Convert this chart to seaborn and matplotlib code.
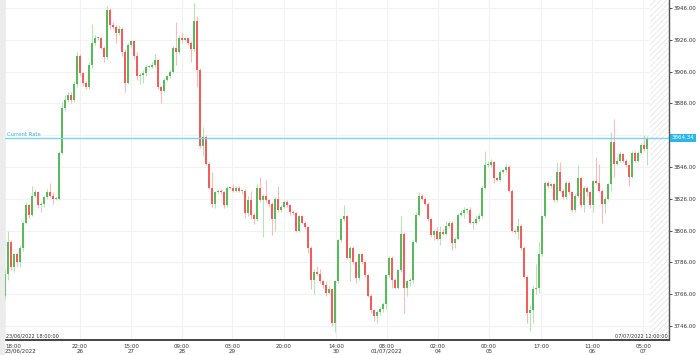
import matplotlib
matplotlib.use("Agg")
import numpy as np
import pandas as pd
import matplotlib.pyplot as plt
import matplotlib.transforms as mtransforms
import seaborn as sns

# hourly closes (price units)
closes = [
    3779, 3799, 3783, 3791, 3786, 3795, 3811, 3822, 3816, 3828,
    3830, 3822, 3823, 3827, 3830, 3828, 3826, 3826, 3855, 3883,
    3888, 3891, 3888, 3898, 3916, 3905, 3899, 3896, 3910, 3924,
    3927, 3927, 3921, 3915, 3945, 3935, 3934, 3930, 3933, 3918,
    3899, 3923, 3925, 3916, 3903, 3904, 3905, 3909, 3909, 3910,
    3913, 3896, 3894, 3901, 3903, 3906, 3921, 3918, 3927, 3926,
    3927, 3924, 3920, 3938, 3907, 3859, 3865, 3848, 3833, 3823,
    3830, 3831, 3830, 3822, 3833, 3833, 3831, 3833, 3831, 3831,
    3817, 3825, 3816, 3813, 3833, 3825, 3828, 3825, 3823, 3813,
    3826, 3819, 3821, 3824, 3822, 3818, 3817, 3806, 3815, 3811,
    3808, 3795, 3775, 3780, 3779, 3774, 3772, 3767, 3769, 3748,
    3774, 3800, 3813, 3815, 3789, 3795, 3786, 3776, 3791, 3786,
    3778, 3765, 3756, 3752, 3755, 3757, 3760, 3778, 3789, 3775,
    3770, 3781, 3804, 3770, 3774, 3775, 3799, 3816, 3828, 3826,
    3823, 3813, 3803, 3806, 3801, 3805, 3804, 3809, 3811, 3798,
    3801, 3816, 3817, 3819, 3819, 3811, 3811, 3813, 3815, 3833,
    3847, 3847, 3849, 3839, 3838, 3843, 3844, 3846, 3831, 3806,
    3805, 3809, 3795, 3777, 3754, 3756, 3769, 3770, 3791, 3815,
    3836, 3834, 3835, 3825, 3843, 3831, 3827, 3836, 3830, 3819,
    3828, 3839, 3822, 3833, 3830, 3822, 3837, 3836, 3831, 3823,
    3826, 3835, 3862, 3848, 3850, 3854, 3850, 3847, 3840, 3855,
    3850, 3855, 3860, 3857, 3864.34,
]
first_open = 3765

# wick lengths above / below the body
upper_wick = [
    3, 7, 1, 1, 1, 2, 1, 2, 1, 6,
    2, 1, 1, 1, 2, 6, 2, 1, 1, 4,
    3, 2, 2, 2, 2, 1, 1, 1, 2, 12,
    2, 1, 1, 1, 2, 1, 2, 1, 2, 1,
    2, 1, 1, 1, 2, 1, 2, 1, 1, 2,
    4, 1, 1, 1, 1, 1, 1, 16, 2, 4,
    1, 1, 1, 11, 3, 1, 6, 1, 1, 10,
    1, 1, 1, 1, 1, 1, 2, 1, 1, 1,
    1, 3, 6, 1, 2, 7, 1, 10, 1, 1,
    1, 8, 1, 1, 1, 1, 1, 1, 1, 1,
    1, 1, 1, 2, 4, 3, 1, 2, 3, 1,
    1, 1, 1, 7, 1, 1, 1, 1, 1, 1,
    1, 1, 1, 1, 1, 1, 1, 1, 1, 1,
    1, 1, 11, 1, 1, 1, 1, 2, 2, 1,
    1, 1, 1, 1, 2, 4, 2, 3, 1, 1,
    1, 1, 2, 2, 1, 2, 1, 3, 2, 1,
    9, 3, 2, 1, 1, 1, 1, 2, 1, 1,
    1, 5, 1, 1, 1, 3, 3, 15, 8, 1,
    1, 1, 1, 1, 6, 6, 1, 1, 1, 1,
    1, 8, 1, 1, 1, 1, 1, 15, 12, 1,
    1, 1, 6, 14, 2, 2, 1, 1, 1, 1,
    1, 1, 1, 6, 1,
]
lower_wick = [
    2, 4, 2, 3, 3, 3, 2, 1, 2, 1,
    1, 2, 4, 2, 1, 1, 3, 1, 1, 1,
    2, 1, 2, 1, 2, 2, 2, 1, 1, 2,
    1, 1, 1, 3, 1, 2, 1, 6, 1, 2,
    6, 1, 2, 2, 2, 5, 5, 2, 1, 1,
    1, 1, 8, 1, 1, 1, 1, 8, 1, 2,
    1, 1, 8, 1, 11, 1, 6, 1, 1, 2,
    3, 1, 1, 2, 1, 1, 1, 1, 1, 2,
    3, 2, 3, 3, 1, 1, 23, 1, 2, 10,
    7, 1, 1, 1, 1, 2, 1, 1, 1, 1,
    1, 3, 6, 9, 1, 1, 2, 2, 1, 2,
    6, 1, 1, 1, 1, 15, 1, 3, 1, 1,
    1, 1, 2, 3, 4, 2, 2, 3, 1, 5,
    1, 1, 1, 16, 5, 3, 2, 1, 1, 1,
    1, 1, 1, 3, 1, 4, 1, 1, 1, 4,
    3, 1, 1, 3, 2, 1, 4, 1, 1, 1,
    1, 1, 1, 3, 1, 1, 1, 1, 1, 1,
    1, 4, 1, 1, 6, 11, 8, 3, 3, 1,
    1, 1, 1, 1, 1, 1, 1, 1, 1, 1,
    1, 1, 2, 4, 2, 2, 4, 1, 1, 12,
    6, 1, 4, 8, 1, 1, 1, 1, 6, 1,
    1, 1, 1, 1, 10,
]

tick_pos = [0, 25, 42, 59, 75.8, 93, 110.3, 127.3, 144.3, 161.3, 178.7, 195.7, 212.7]
tick_labels = ["18:00\n23/06/2022", "22:00\n26", "15:00\n27", "09:00\n28", "03:00\n29",
               "20:00", "14:00\n30", "08:00\n01/07/2022", "02:00\n04", "00:00\n05",
               "17:00", "11:00\n06", "05:00\n07"]
price_ticks = [3746, 3766, 3786, 3806, 3826, 3846, 3866, 3886, 3906, 3926, 3946]
current_rate = 3864.34
start_stamp = "23/06/2022 18:00:00"
end_stamp = "07/07/2022 12:00:00"

df = pd.DataFrame({"close": closes, "up": upper_wick, "down": lower_wick})
df["open"] = [first_open] + closes[:-1]
df["top"] = df[["open", "close"]].max(axis=1)
df["bottom"] = df[["open", "close"]].min(axis=1)
df["high"] = df["top"] + df["up"]
df["low"] = df["bottom"] - df["down"]
df["bull"] = df["close"] >= df["open"]
idx = np.arange(len(df))

sns.set_theme(style="white")
plt.rcParams["font.family"] = ["DejaVu Sans"]
plt.rcParams["hatch.linewidth"] = 0.6

fig = plt.figure(figsize=(6.99, 3.55), dpi=100)
fig.patches.append(plt.Rectangle((0, 0), 4 / 699, 1, transform=fig.transFigure,
                                 color="#ececec", zorder=0))
ax = fig.add_axes([4 / 699, 15 / 355, 665 / 699, 340 / 355])

green, red = "#5cb85c", "#f25c5c"
green_w, red_w = "#b9e2b9", "#f8bcbc"

ax.vlines(idx, df["low"], df["high"],
          colors=np.where(df["bull"], green_w, red_w), lw=0.8, zorder=3)
heights = (df["top"] - df["bottom"]).clip(lower=0.6)
ax.bar(idx, heights, bottom=df["bottom"], width=0.58,
       color=np.where(df["bull"], green, red), lw=0, zorder=4)

ax.set_xlim(-0.33, 221.33)
ax.set_ylim(3737.2, 3951.0)

# grid
for p in price_ticks:
    ax.axhline(p, color="#f2f2f2", lw=0.8, zorder=1)
for t in tick_pos:
    ax.axvline(t, color="#f2f2f2", lw=0.8, zorder=1)

# future area
ax.axvspan(215, 221.33, facecolor="white", edgecolor="#e6e6e6", hatch="//////",
           lw=0, zorder=2)

# current rate
ax.axhline(current_rate, color="#7dd3ee", lw=1.0, zorder=5)
ax.text(0.7, current_rate + 0.8, "Current Rate", color="#3bb4dc", fontsize=3.8,
        ha="left", va="bottom", zorder=6)
trans = mtransforms.blended_transform_factory(ax.transAxes, ax.transData)
ax.text(1.004, current_rate, "%.2f" % current_rate, transform=trans, color="white",
        fontsize=4, ha="left", va="center", zorder=10, clip_on=False,
        bbox=dict(boxstyle="square,pad=0.25", fc="#2bb6ea", ec="none"))

ax.text(0.5, 3738.2, start_stamp, fontsize=3.6, color="#333333", ha="left", va="bottom")
ax.text(221.0, 3738.2, end_stamp, fontsize=3.6, color="#333333", ha="right", va="bottom")

ax.set_xticks(tick_pos)
ax.set_xticklabels(tick_labels, fontsize=4, color="#333333", linespacing=0.95)
ax.get_xticklabels()[0].set_horizontalalignment("left")
ax.yaxis.tick_right()
ax.set_yticks(price_ticks)
# the 3866 label sits under the current-rate box in the original
ax.set_yticklabels(["" if p == 3866 else "%.2f" % p for p in price_ticks],
                   fontsize=4, color="#333333")
ax.tick_params(axis="x", length=2, width=0.6, pad=1, colors="#333333")
ax.tick_params(axis="y", length=2, width=0.6, pad=1.5, colors="#333333")

for side in ["top", "left"]:
    ax.spines[side].set_visible(False)
ax.spines["bottom"].set_color("#444444")
ax.spines["bottom"].set_linewidth(1.4)
ax.spines["right"].set_color("#555555")
ax.spines["right"].set_linewidth(1.0)

fig.savefig("out.png", dpi=100, facecolor="white")
